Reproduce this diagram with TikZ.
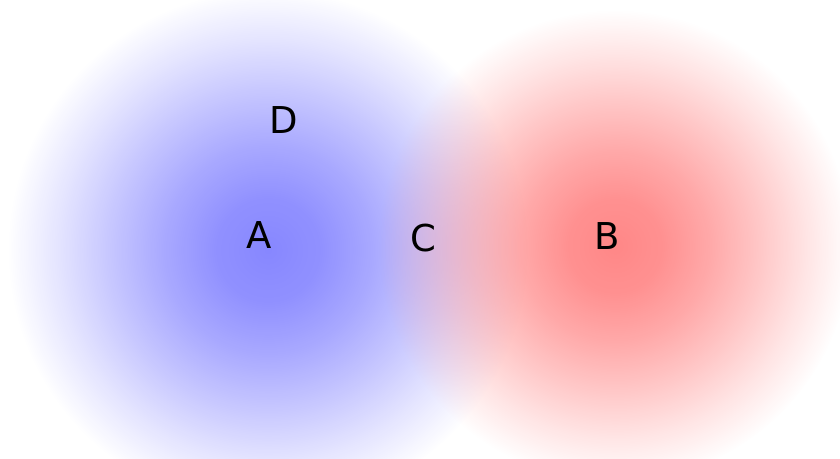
\documentclass[tikz,border=0pt]{standalone}
\usepackage{fontspec}
\setmainfont{DejaVu Sans}
\usetikzlibrary{fadings}
\pgfdeclareradialshading{softdiscsh}{\pgfpointorigin}{%
  color(0bp)=(pgftransparent!0);
  color(5bp)=(pgftransparent!8);
  color(10bp)=(pgftransparent!28);
  color(15bp)=(pgftransparent!52);
  color(20bp)=(pgftransparent!77);
  color(25bp)=(pgftransparent!100);
  color(50bp)=(pgftransparent!100)}
\pgfdeclarefading{softdisc}{\pgfuseshading{softdiscsh}}
\begin{document}
\begin{tikzpicture}[x=1pt,y=-1pt,
  lbl/.style={font=\fontsize{37}{40}\selectfont, inner sep=0pt, text=black}]
\useasboundingbox (0,0) rectangle (840,458);
\fill[blue!47, path fading=softdisc] (268,250) circle (260);
\fill[red!47, path fading=softdisc] (615,246) circle (236);
\node[lbl] (A) at (259,235) {A};
\node[lbl] (B) at (607,236) {B};
\node[lbl] (C) at (423,238) {C};
\node[lbl] (D) at (284,120) {D};
\end{tikzpicture}
\end{document}
